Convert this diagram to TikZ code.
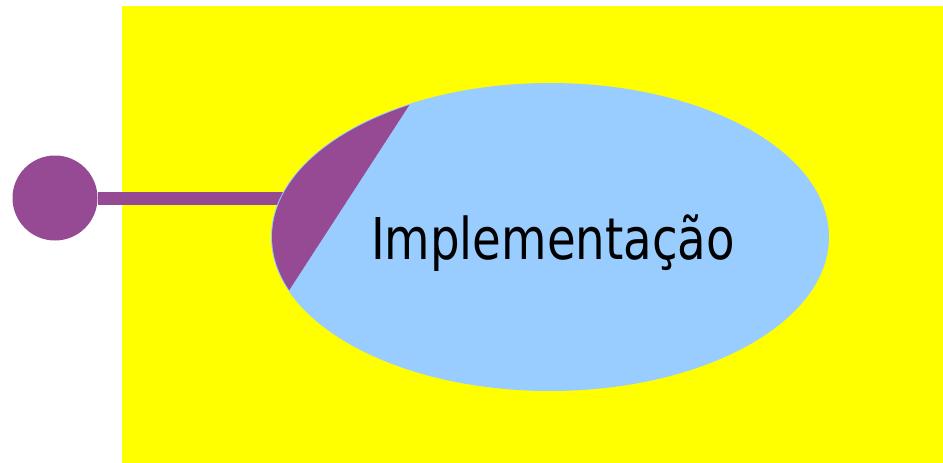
\documentclass[tikz,border=0pt]{standalone}
\usepackage{fontspec}
\usetikzlibrary{shapes.geometric}
\newfontfamily\tahoma[FakeStretch=0.81]{DejaVu Sans}
\definecolor{plum}{RGB}{149,74,147}
\definecolor{sky}{RGB}{153,204,255}
\definecolor{lemon}{RGB}{255,255,0}
\def\notch{(410,104) -- (288,292) -- (240,292) -- (240,80) -- cycle}
\tikzset{
  actor/.style={circle,fill=plum,minimum size=85pt,inner sep=0pt},
  usecase/.style={ellipse,fill=sky,minimum width=558pt,minimum height=308pt,inner sep=0pt,
    font=\tahoma\fontsize{57.6}{60}\selectfont},
  link/.style={plum,line width=13pt}
}
\begin{document}
\begin{tikzpicture}[x=1pt,y=-1pt]
  \useasboundingbox (0,0) rectangle (943,463);
  \fill[lemon] (122,6) rectangle (943,463);
  \node[actor] (user) at (55,198) {};
  \coordinate (hook) at (320,198);
  \draw[link] (user) -- (hook);
  \node[usecase] (impl) at (550,237) {\raisebox{-22pt}[0pt][0pt]{\hspace{6pt}Implementação}};
  % purple cap on the left of the use case
  \begin{scope}
    \clip (impl.center) ellipse [x radius=278, y radius=153];
    \fill[plum] \notch;
  \end{scope}
\end{tikzpicture}
\end{document}
